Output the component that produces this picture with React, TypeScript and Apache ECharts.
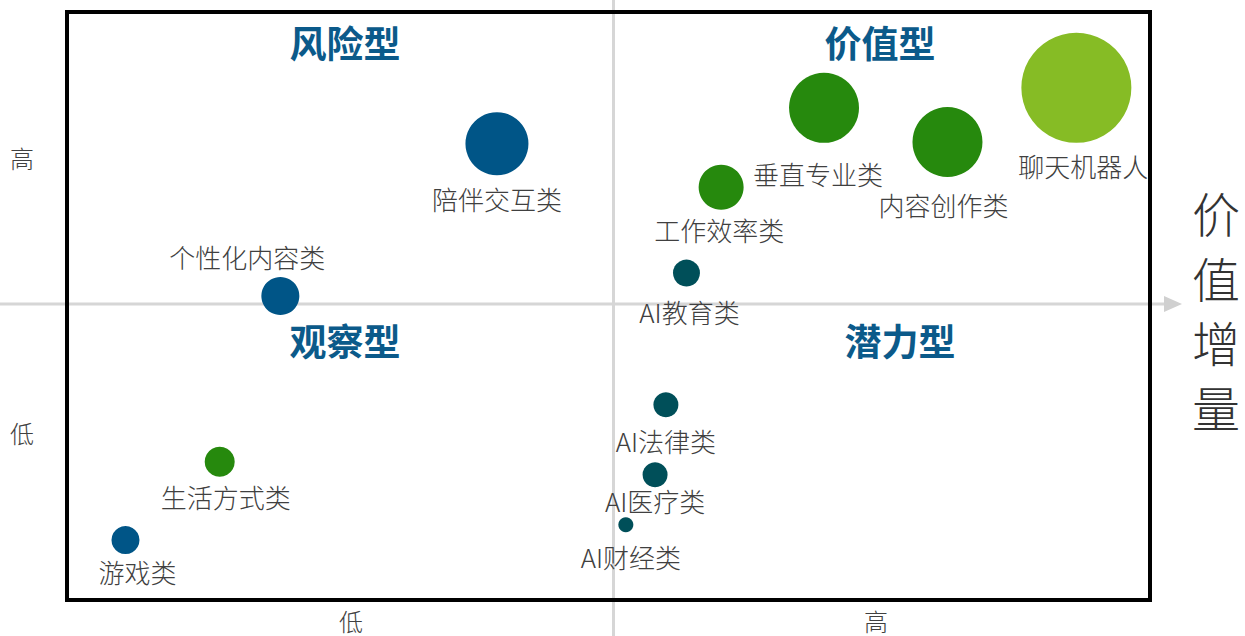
import React, { useEffect, useRef } from "react";
import * as echarts from "echarts";

const names = ["聊天机器人", "垂直专业类", "内容创作类", "工作效率类", "AI教育类", "陪伴交互类", "个性化内容类", "AI法律类", "AI医疗类", "AI财经类", "生活方式类", "游戏类"];
const xValues = [93.2, 69.9, 81.3, 60.4, 57.2, 39.7, 19.7, 55.3, 54.3, 51.6, 14.1, 5.4];
const yValues = [87.1, 83.7, 77.9, 70.2, 55.6, 77.6, 51.7, 33.2, 21.3, 12.8, 23.5, 10.2];
const sizes = [110, 70, 70, 45, 27, 63, 38, 25, 25, 15, 30, 28];
const groups = ["light", "green", "green", "green", "teal", "blue", "blue", "teal", "teal", "teal", "green", "blue"];
const quadrantTitles = ["风险型", "价值型", "观察型", "潜力型"];
const xTickLabels = ["低", "高"];
const yTickLabels = ["高", "低"];
const axisTitle = "价值增量";

const colors: Record<string, string> = {
  light: "#86bc25",
  green: "#26890d",
  teal: "#004f59",
  blue: "#005587",
};

const labelOffsets: Record<string, [number, number]> = {
  聊天机器人: [7, -2],
  垂直专业类: [-6, 6],
  内容创作类: [-4, 3],
  工作效率类: [-2, -5],
  AI教育类: [3, 0],
  陪伴交互类: [0, -2],
  AI法律类: [0, -2],
  AI医疗类: [0, -12],
  AI财经类: [5, -1],
  生活方式类: [6, -5],
  游戏类: [12, -8],
};

export default function App() {
  const ref = useRef<HTMLDivElement>(null);
  useEffect(() => {
    document.body.style.margin = "0";
    const chart = echarts.init(ref.current!, undefined, { renderer: "svg" });
    const font = "'Noto Sans CJK SC', 'Noto Sans', sans-serif";
    const data = names.map((n, i) => {
      const isTop = n === "个性化内容类";
      return {
        name: n,
        value: [xValues[i], yValues[i]],
        symbolSize: sizes[i],
        itemStyle: { color: colors[groups[i]] },
        label: {
          show: true,
          position: isTop ? "top" : "bottom",
          distance: isTop ? 8 : 12,
          offset: isTop ? [-33, 0] : labelOffsets[n] || [0, 0],
          formatter: "{b}",
          fontSize: 26,
          fontWeight: 300,
          color: "#404040",
          fontFamily: font,
        },
      };
    });
    const titlePos: [number, number][] = [
      [345, 42],
      [880, 42],
      [345, 340],
      [900, 340],
    ];
    const graphic: any[] = [
      {
        type: "line",
        z: 1,
        shape: { x1: 613.5, y1: 0, x2: 613.5, y2: 636 },
        style: { stroke: "#d6d6d6", lineWidth: 3 },
      },
      {
        type: "line",
        z: 1,
        shape: { x1: 0, y1: 304, x2: 1166, y2: 304 },
        style: { stroke: "#d6d6d6", lineWidth: 3 },
      },
      {
        type: "polygon",
        z: 1,
        shape: { points: [[1164, 296], [1182, 304], [1164, 312]] },
        style: { fill: "#d0d0d0" },
      },
      {
        type: "rect",
        z: 20,
        shape: { x: 67, y: 12, width: 1083, height: 588 },
        style: { fill: "none", stroke: "#000", lineWidth: 4 },
      },
      ...quadrantTitles.map((t, i) => ({
        type: "text",
        z: 20,
        x: titlePos[i][0],
        y: titlePos[i][1],
        style: {
          text: t,
          fill: "#0b5a8a",
          font: `bold 37px ${font}`,
          align: "center",
          verticalAlign: "middle",
        },
      })),
      {
        type: "text",
        z: 20,
        x: 351,
        y: 620,
        style: { text: xTickLabels[0], fill: "#404040", font: `300 24px ${font}`, align: "center", verticalAlign: "middle" },
      },
      {
        type: "text",
        z: 20,
        x: 876,
        y: 620,
        style: { text: xTickLabels[1], fill: "#404040", font: `300 24px ${font}`, align: "center", verticalAlign: "middle" },
      },
      {
        type: "text",
        z: 20,
        x: 22,
        y: 157,
        style: { text: yTickLabels[0], fill: "#404040", font: `300 24px ${font}`, align: "center", verticalAlign: "middle" },
      },
      {
        type: "text",
        z: 20,
        x: 22,
        y: 432,
        style: { text: yTickLabels[1], fill: "#404040", font: `300 24px ${font}`, align: "center", verticalAlign: "middle" },
      },
      ...axisTitle.split("").map((c, i) => ({
        type: "text",
        z: 20,
        x: 1216,
        y: 212 + i * 64.5,
        style: { text: c, fill: "#333333", font: `300 48px ${font}`, align: "center", verticalAlign: "middle" },
      })),
    ];
    chart.setOption({
      animation: false,
      grid: { left: 67, top: 12, width: 1083, height: 588, show: false },
      xAxis: { type: "value", min: 0, max: 100, show: false },
      yAxis: { type: "value", min: 0, max: 100, show: false },
      graphic,
      series: [
        {
          type: "scatter",
          z: 5,
          data,
          itemStyle: { opacity: 1 },
        },
      ],
    });
    return () => chart.dispose();
  }, []);
  return <div ref={ref} style={{ width: 1245, height: 636 }} />;
}
